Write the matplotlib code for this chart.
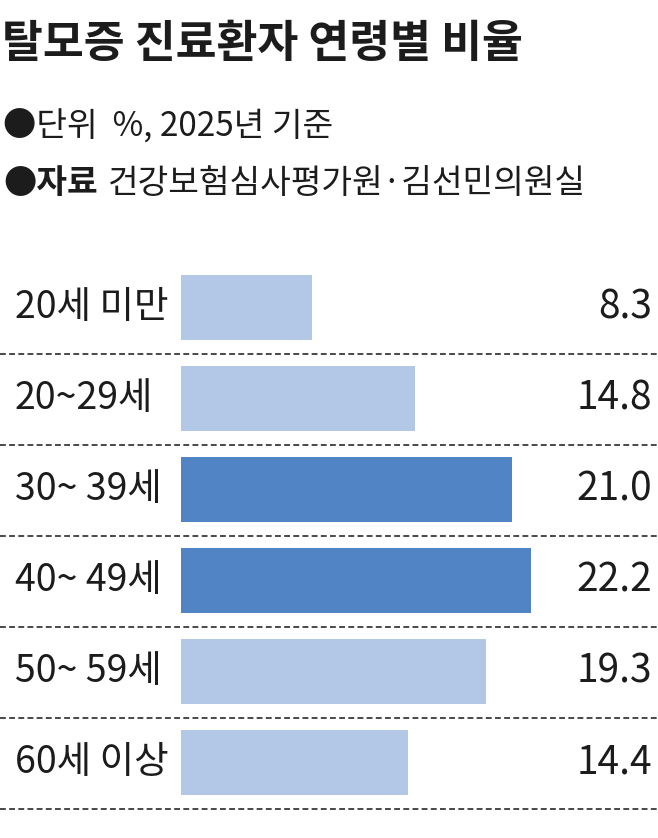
import matplotlib
matplotlib.use('Agg')
import matplotlib.pyplot as plt

plt.rcParams['font.family'] = ['Noto Sans CJK KR', 'DejaVu Sans']

# data
groups = ['20세 미만', '20~29세', '30~ 39세', '40~ 49세', '50~ 59세', '60세 이상']
shares = [8.3, 14.8, 21.0, 22.2, 19.3, 14.4]
highlight = ['30~ 39세', '40~ 49세']

title = '탈모증 진료환자 연령별 비율'
unit_line = '●단위  %, 2025년 기준'
src_head = '●자료'
src_body = '건강보험심사평가원·김선민의원실'

W, H = 658., 838.
px_per_unit = 15.78   # bar length scale
x0 = 181.             # bar start in pixels

LIGHT = '#b3c8e6'
DARK = '#5084c4'
TXT = '#1c1c1c'

fig = plt.figure(figsize=(W/100, H/100), dpi=100)
fig.patch.set_facecolor('white')

# title + notes
fig.text(2/W, 1-44/H, title, fontsize=32, fontweight='heavy', color=TXT,
         ha='left', va='center')
fig.text(3/W, 1-127/H, unit_line, fontsize=24, color=TXT, ha='left', va='center')
fig.text(3/W, 1-183/H, src_head, fontsize=24, fontweight='bold', color=TXT,
         ha='left', va='center')
fig.text(108/W, 1-183/H, src_body, fontsize=24, color=TXT, ha='left', va='center')

# bars
ax = fig.add_axes([0, 1-815./H, 1, (815.-262.)/H])
ypos = range(len(groups))
cols = [DARK if g in highlight else LIGHT for g in groups]
ax.barh(ypos, shares, height=0.717, color=cols, edgecolor='none')
ax.set_xlim(-x0/px_per_unit, (W-x0)/px_per_unit)
ax.set_ylim(5.58, -0.5)
ax.axis('off')

ytr = ax.get_yaxis_transform()
for i, (g, v) in enumerate(zip(groups, shares)):
    ax.axhline(i+0.513, color='#2a2a2a', lw=1.2, ls=(0, (3.5, 2)))
    ax.text(15/W, i, g, transform=ytr, fontsize=27, color=TXT,
            ha='left', va='center')
    ax.text(652/W, i, '%.1f' % v, transform=ytr, fontsize=28, color=TXT,
            ha='right', va='center')

fig.savefig('out.png', dpi=100)
